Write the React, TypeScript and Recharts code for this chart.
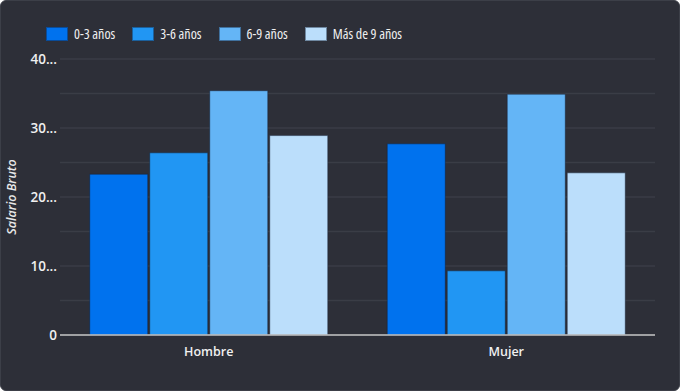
import { BarChart, Bar, XAxis, YAxis, CartesianGrid } from 'recharts';

const categories = ['Hombre', 'Mujer'];
const series = ['0-3 años', '3-6 años', '6-9 años', 'Más de 9 años'];
const values0a3 = [23.3, 27.7];
const values3a6 = [26.4, 9.3];
const values6a9 = [35.4, 34.9];
const valuesMas9 = [28.9, 23.5];
const yTicks = [0, 5, 10, 15, 20, 25, 30, 35, 40];
const yLabels: Record<number, string> = { 0: '0', 10: '10...', 20: '20...', 30: '30...', 40: '40...' };

const colors = ['#0072ee', '#2196f3', '#64b5f6', '#bbdefb'];
const seriesValues = [values0a3, values3a6, values6a9, valuesMas9];

const data = categories.map((name, i) => {
  const row: Record<string, string | number> = { name };
  series.forEach((s, j) => {
    row[s] = seriesValues[j][i];
  });
  return row;
});

const font = '"Open Sans", sans-serif';

function LegendContent() {
  return (
    <div
      style={{
        position: 'absolute',
        left: 45,
        top: 24,
        display: 'flex',
        alignItems: 'center',
        fontFamily: font,
        fontSize: 14,
        color: '#f0f0f0',
        fontStretch: '72%',
        lineHeight: '18px',
      }}
    >
      {series.map((s, i) => (
        <div key={s} style={{ display: 'flex', alignItems: 'center', marginRight: 17 }}>
          <span
            style={{
              display: 'inline-block',
              width: 20,
              height: 12,
              background: colors[i],
              border: '1px solid rgba(20,30,50,0.45)',
              marginRight: 6,
            }}
          />
          <span>{s}</span>
        </div>
      ))}
    </div>
  );
}

export default function App() {
  return (
    <div
      style={{
        position: 'absolute',
        left: 0,
        top: 0,
        width: 680,
        height: 391,
        background: '#2d2f38',
        border: '1px solid #3c3f48',
        borderRadius: 6,
        boxSizing: 'border-box',
        overflow: 'hidden',
      }}
    >
      <BarChart
        width={680}
        height={391}
        data={data}
        margin={{ top: 59, right: 25, bottom: 26, left: 0 }}
        barCategoryGap="10%"
        barGap={2}
        style={{ position: 'absolute', left: -1, top: -1 }}
      >
        <CartesianGrid vertical={false} stroke="#3a3d46" strokeWidth={1.5} />
        <XAxis
          dataKey="name"
          height={30}
          axisLine={{ stroke: '#c4c4c4', strokeWidth: 1.5 }}
          tickLine={false}
          tickMargin={6}
          tick={{ fill: '#f0f0f0', fontSize: 12.5, fontWeight: 600, fontFamily: font }}
        />
        <YAxis
          width={60}
          domain={[0, 40]}
          ticks={yTicks}
          interval={0}
          axisLine={false}
          tickLine={false}
          tickSize={3}
          tickMargin={0}
          tickFormatter={(v: number) => yLabels[v] ?? ''}
          tick={{ fill: '#f0f0f0', fontSize: 13.5, fontWeight: 600, fontFamily: font }}
          label={{
            value: 'Salario Bruto',
            angle: -90,
            position: 'insideLeft',
            offset: 12,
            style: { textAnchor: 'middle', fill: '#e8e8e8', fontSize: 12.5, fontStyle: 'italic', fontWeight: 600, fontFamily: font },
          }}
        />
        {series.map((s, i) => (
          <Bar
            key={s}
            dataKey={s}
            fill={colors[i]}
            stroke="rgba(20,30,50,0.45)"
            strokeWidth={1}
            isAnimationActive={false}
          />
        ))}
      </BarChart>
      <LegendContent />
    </div>
  );
}
